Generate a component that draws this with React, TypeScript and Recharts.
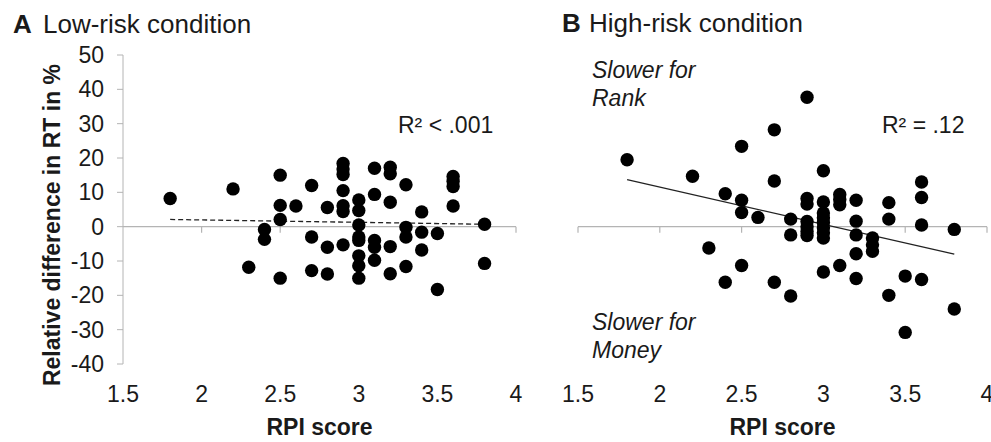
import React from 'react';
import { ScatterChart, Scatter, XAxis, YAxis, ReferenceLine } from 'recharts';

// RPI score (x) and relative RT difference in % (y)
const lowRiskRpi = [
  1.8, 2.2, 2.3, 2.4, 2.4, 2.5, 2.5, 2.5, 2.5, 2.6, 2.7, 2.7, 2.7, 2.8, 2.8, 2.8,
  2.9, 2.9, 2.9, 2.9, 2.9, 2.9, 2.9, 3.0, 3.0, 3.0, 3.0, 3.0, 3.0, 3.0, 3.0,
  3.1, 3.1, 3.1, 3.1, 3.1, 3.2, 3.2, 3.2, 3.2, 3.2, 3.3, 3.3, 3.3, 3.3,
  3.4, 3.4, 3.4, 3.5, 3.5, 3.6, 3.6, 3.6, 3.6, 3.8, 3.8,
];
const lowRiskDiff = [
  8.2, 11, -11.8, -0.8, -3.7, 15, 6.2, 2.1, -15, 6, 12, -3, -12.8, 5.6, -6, -13.8,
  18.4, 16.8, 15.2, 10.5, 6.1, 4.4, -5.3, 7.8, 4.7, 0.5, -3, -4, -8.5, -11.4, -15,
  17, 9.4, -4, -6, -9.8, 17.3, 15.4, 7.1, -5.8, -13.7, 12.2, -0.2, -3, -11.6,
  4.3, -1.6, -6.8, -2, -18.3, 14.6, 13.2, 11.7, 6, 0.7, -10.7,
];

const highRiskRpi = [
  1.8, 2.2, 2.3, 2.4, 2.4, 2.5, 2.5, 2.5, 2.5, 2.6, 2.7, 2.7, 2.7, 2.8, 2.8, 2.8,
  2.9, 2.9, 2.9, 2.9, 2.9, 2.9, 2.9, 3.0, 3.0, 3.0, 3.0, 3.0, 3.0, 3.0, 3.0, 3.0,
  3.1, 3.1, 3.1, 3.1, 3.2, 3.2, 3.2, 3.2, 3.2, 3.3, 3.3, 3.3, 3.4, 3.4, 3.4,
  3.5, 3.5, 3.6, 3.6, 3.6, 3.6, 3.8, 3.8,
];
const highRiskDiff = [
  19.5, 14.7, -6.2, 9.6, -16.2, 23.4, 7.7, 4.1, -11.3, 2.7, 28.2, 13.3, -16.2, 2.2, -2.4, -20.2,
  37.7, 8.2, 6.6, 1.5, 0, -1.4, -2.6, 16.3, 7.2, 4, 2.6, 1.2, -0.3, -1.8, -3.3, -13.2,
  9.4, 7.9, 6.4, -11.3, 7.7, 1.6, -2.4, -7.9, -15.1, -3.3, -5.3, -7.2, 7, 2.2, -20,
  -14.4, -30.8, 13, 8.5, 0.5, -15.4, -0.8, -24,
];

// linear fits drawn in the figure
const lowRiskFit = [{ x: 1.8, y: 2.1 }, { x: 3.8, y: 0.7 }];
const highRiskFit = [{ x: 1.8, y: 13.7 }, { x: 3.8, y: -8 }];

const xTicks = [1.5, 2, 2.5, 3, 3.5, 4];
const yTicks = [-40, -30, -20, -10, 0, 10, 20, 30, 40, 50];

const lowRisk = lowRiskRpi.map((x, i) => ({ x, y: lowRiskDiff[i] }));
const highRisk = highRiskRpi.map((x, i) => ({ x, y: highRiskDiff[i] }));

const AXIS = '#b4b4b4';
const INK = '#1a1a1a';
const FONT = '"Liberation Sans", Arial, Helvetica, sans-serif';

const Dot = (props: any) => <circle cx={props.cx} cy={props.cy} r={6.7} fill="#000" />;

function Panel({ data, fit, dashed, showY, zeroTicks, left, width, marginLeft, marginRight }: any) {
  return (
    <div style={{ position: 'absolute', left, top: 0 }}>
      <ScatterChart
        width={width}
        height={442}
        margin={{ top: 55, right: marginRight, bottom: 0, left: marginLeft }}
        style={{ fontFamily: FONT }}
      >
        <XAxis
          type="number"
          dataKey="x"
          domain={[1.5, 4]}
          ticks={xTicks}
          interval={0}
          axisLine={false}
          tickLine={false}
          tickSize={0}
          tickMargin={22}
          height={78}
          tick={{ fill: INK, fontSize: 23 }}
          label={{ value: 'RPI score', position: 'insideBottom', offset: 7, fill: INK, fontSize: 23, fontWeight: 'bold' }}
        />
        <YAxis
          type="number"
          dataKey="y"
          domain={[-40, 50]}
          ticks={yTicks}
          interval={0}
          hide={!showY}
          width={123}
          tickSize={6}
          tickMargin={13}
          axisLine={{ stroke: AXIS }}
          tickLine={{ stroke: AXIS }}
          tick={{ fill: INK, fontSize: 23 }}
        />
        <ReferenceLine y={0} stroke={AXIS} strokeWidth={1.2} />
        {zeroTicks.map((t: number) => (
          <ReferenceLine key={t} segment={[{ x: t, y: 0 }, { x: t, y: -1.8 }]} stroke={AXIS} strokeWidth={1.2} />
        ))}
        <ReferenceLine
          segment={fit}
          stroke="#222"
          strokeWidth={1.3}
          strokeDasharray={dashed ? '5 3' : undefined}
        />
        <Scatter data={data} shape={Dot} isAnimationActive={false} />
      </ScatterChart>
    </div>
  );
}

export default function App() {
  return (
    <div style={{ position: 'absolute', left: 0, top: 0, width: 991, height: 442, background: '#fff', overflow: 'hidden', fontFamily: FONT }}>
      <Panel
        data={lowRisk}
        fit={lowRiskFit}
        dashed
        showY
        zeroTicks={[2, 2.5, 3, 3.5, 4]}
        left={0}
        width={540}
        marginLeft={0}
        marginRight={24}
      />
      <Panel
        data={highRisk}
        fit={highRiskFit}
        dashed={false}
        showY={false}
        zeroTicks={xTicks}
        left={540}
        width={451}
        marginLeft={38}
        marginRight={4}
      />
      <svg width={991} height={442} style={{ position: 'absolute', left: 0, top: 0, pointerEvents: 'none' }}>
        <g fill={INK} style={{ fontFamily: FONT }}>
          <text x={13} y={33} fontSize={26} fontWeight="bold">A</text>
          <text x={43} y={33} fontSize={26}>Low-risk condition</text>
          <text x={562} y={32} fontSize={26} fontWeight="bold">B</text>
          <text x={589} y={32} fontSize={26}>High-risk condition</text>
          <text
            x={0}
            y={0}
            fontSize={23}
            fontWeight="bold"
            textAnchor="middle"
            transform="translate(60 225) rotate(-90)"
          >
            Relative difference in RT in %
          </text>
          <text x={398} y={133} fontSize={23}>R² &lt; .001</text>
          <text x={882} y={133} fontSize={23}>R² = .12</text>
          <g fontSize={23} fontStyle="italic">
            <text x={592} y={78}>Slower for</text>
            <text x={592} y={106}>Rank</text>
            <text x={592} y={330}>Slower for</text>
            <text x={592} y={358}>Money</text>
          </g>
        </g>
      </svg>
    </div>
  );
}
